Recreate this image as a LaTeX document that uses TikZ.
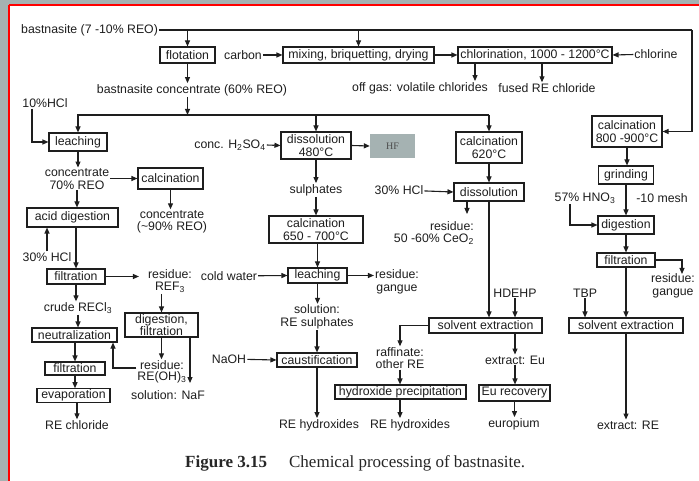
\documentclass[tikz,border=0pt]{standalone}
\usepackage{fontspec}
\setmainfont{Liberation Sans}
\newfontfamily\capfont{Liberation Serif}
\usetikzlibrary{arrows.meta}
\definecolor{bggray}{RGB}{165,178,178}
\definecolor{ink}{RGB}{30,30,30}
\begin{document}
\begin{tikzpicture}[x=1pt,y=-1pt,
  font=\fontsize{12.3}{12.5}\selectfont,
  every node/.style={text=ink},
  box/.style={draw=ink, line width=1.1pt, inner sep=1pt, align=center},
  lbl/.style={inner sep=1pt, align=center},
  arr/.style={draw=ink, line width=1.1pt, -{Triangle[length=6pt,width=5pt]}},
  ln/.style={draw=ink, line width=1.1pt}]
\useasboundingbox (0,0) rectangle (699,481);
\fill[bggray] (0,0) rectangle (699,481);
\fill[white] (9,5) rectangle (699,481);
\draw[red, line width=2.5pt] (9.2,5.2) -- (699,5.2);
\draw[red, line width=2.5pt] (9.2,5.2) -- (9.2,481);

% ---- top row
\node[lbl, anchor=west] (bast) at (20,30) {bastnasite (7 -10\% REO)};
\node[box, minimum width=55pt, minimum height=16pt] (flot) at (187.5,55) {flotation};
\node[lbl] (carbon) at (243,55) {carbon};
\node[box, minimum width=151pt, minimum height=16pt] (mix) at (358.5,55) {mixing, briquetting, drying};
\node[box, minimum width=154pt, minimum height=16pt] (chlor) at (535,55) {chlorination, 1000 - 1200°C};
\node[lbl] (chlorine) at (656,54) {chlorine};
\node[lbl] (offgas) at (420,88) {off gas: volatile chlorides};
\node[lbl] (fused) at (547,88) {fused RE chloride};
\node[lbl] (bconc) at (192,90) {bastnasite concentrate (60\% REO)};
\coordinate (dl) at (77,115);
\coordinate (tr) at (692,30);
\coordinate (offin) at ([xshift=55pt]offgas.north);
\coordinate (fusedin) at ([xshift=-5pt]fused.north);

% ---- left column
\node[lbl] (hcl10) at (45,103) {10\%HCl};
\node[box, minimum width=58pt, minimum height=18pt] (leach1) at (78,142) {leaching};
\node[lbl] (conc70) at (77,179) {concentrate\\70\% REO};
\node[box, minimum width=65pt, minimum height=21pt] (calc1) at (170.5,178.5) {calcination};
\node[lbl] (conc90) at (172,222) {concentrate\\(\textasciitilde 90\% REO)};
\node[box, minimum width=91pt, minimum height=19pt] (acid) at (72.5,217.5) {acid digestion};
\node[lbl] (hcl30a) at (47,257) {30\% HCl};
\node[box, minimum width=58pt, minimum height=15pt] (filt1) at (76,276.5) {filtration};
\node[lbl] (resREF) at (170,281) {residue:\\REF\textsubscript{3}};
\node[lbl] (crude) at (78,308) {crude RECl\textsubscript{3}};
\node[box, minimum width=85pt, minimum height=14pt] (neut) at (74.5,335) {neutralization};
\node[box, minimum width=60pt, minimum height=13pt] (filt2) at (75,368.5) {filtration};
\node[box, minimum width=73pt, minimum height=13pt] (evap) at (73.5,395.5) {evaporation};
\node[lbl] (rechl) at (77,425) {RE chloride};
\node[box, minimum width=73pt, minimum height=24pt, font=\fontsize{12.3}{11.5}\selectfont] (dig1) at (161.5,325) {digestion,\\filtration};
\node[lbl, font=\fontsize{12.3}{11.5}\selectfont] (resOH) at (162,372) {residue:\\RE(OH)\textsubscript{3}};
\node[lbl] (naf) at (168,395) {solution: NaF};
\coordinate (nafin) at (190,383);

% ---- middle column
\node[lbl] (h2so4) at (230,145) {conc. H\textsubscript{2}SO\textsubscript{4}};
\node[box, minimum width=70pt, minimum height=27pt] (diss1) at (316,145.5) {dissolution\\480°C};
\node[fill=bggray, minimum width=45pt, minimum height=24pt, inner sep=0pt,
      font=\capfont\fontsize{10}{11}\selectfont, text=black!70] (hf) at (392.5,146) {HF};
\node[lbl] (sulph) at (316,190) {sulphates};
\node[box, minimum width=94pt, minimum height=27pt] (calc650) at (316,229.5) {calcination\\650 - 700°C};
\node[lbl] (cold) at (229,276) {cold water};
\node[box, minimum width=59pt, minimum height=15pt] (leach2) at (317.5,275.5) {leaching};
\node[lbl] (resG) at (397,282) {residue:\\gangue};
\node[lbl] (soln) at (317,317) {solution:\\RE sulphates};
\node[lbl] (naoh) at (229,359) {NaOH};
\node[box, minimum width=80pt, minimum height=14pt] (caust) at (317,360) {caustification};
\node[lbl] (reh1) at (319,425) {RE hydroxides};

% ---- middle-right column
\node[box, minimum width=66pt, minimum height=31pt] (calc620) at (489,147.5) {calcination\\620°C};
\node[lbl] (hcl30b) at (399,190) {30\% HCl};
\node[box, minimum width=70pt, minimum height=18pt] (diss2) at (489,192) {dissolution};
\node[lbl, align=right, anchor=east] (resCe) at (475,233) {residue:\\50 -60\% CeO\textsubscript{2}};
\coordinate (cein) at (467,214);
\node[lbl] (hdehp) at (515,293) {HDEHP};
\node[box, minimum width=113pt, minimum height=15pt] (solv1) at (485.5,325.5) {solvent extraction};
\node[lbl, font=\fontsize{12.3}{12}\selectfont] (raff) at (400,358) {raffinate:\\other RE};
\node[box, minimum width=131pt, minimum height=14pt] (hydr) at (400.5,392) {hydroxide precipitation};
\node[lbl] (reh2) at (410,425) {RE hydroxides};
\node[lbl] (exEu) at (515,360) {extract: Eu};
\node[box, minimum width=71pt, minimum height=16pt] (eurec) at (514.5,393) {Eu recovery};
\node[lbl] (euro) at (514,424) {europium};

% ---- right column
\node[box, minimum width=70pt, minimum height=31pt] (calc800) at (627,131.5) {calcination\\800 -900°C};
\node[box, minimum width=55pt, minimum height=18pt] (grind) at (626,175) {grinding};
\node[lbl] (hno3) at (585,198) {57\% HNO\textsubscript{3}};
\node[lbl] (mesh) at (662,198) {-10 mesh};
\node[box, minimum width=56pt, minimum height=18pt] (dig2) at (626,225) {digestion};
\node[box, minimum width=58pt, minimum height=14pt] (filt3) at (626,260) {filtration};
\node[lbl] (resG2) at (673,286) {residue:\\gangue};
\coordinate (g2in) at (682,274);
\node[lbl] (tbp) at (585,293) {TBP};
\node[box, minimum width=114pt, minimum height=15pt] (solv2) at (626,325.5) {solvent extraction};
\node[lbl] (exRE) at (628,425) {extract: RE};

% ---- caption
\node[anchor=west, inner sep=0pt, text=black!85, font=\capfont\fontsize{17}{18}\selectfont] (cap) at (185,463)
  {\textbf{Figure 3.15}\hspace{1.3em}Chemical processing of bastnasite.};

% ---- connectors: top
\draw[ln] (bast.east) -- (tr);
\draw[arr] (tr) |- (calc800.east);
\draw[arr] (flot.north |- bast.east) -- (flot.north);
\draw[arr] (mix.north |- bast.east) -- (mix.north);
\draw[arr] (carbon) -- (mix.west);
\draw[arr] (mix.east) -- (chlor.west);
\draw[arr] (chlorine) -- (chlor.east);
\draw[arr] (chlor.south -| offin) -- (offin);
\draw[arr] (chlor.south -| fusedin) -- (fusedin);
\draw[arr] (flot.south) -- (flot.south |- bconc.north);
\draw[arr] (bconc.south -| flot.south) -- (dl -| flot.south);
\draw[arr] (dl -| calc620.north) -| (leach1.north);
\draw[arr] (dl -| diss1.north) -- (diss1.north);
\draw[arr] (dl -| calc620.north) -- (calc620.north);

% ---- left
\draw[arr] ([xshift=-13pt]hcl10.south) |- (leach1.west);
\draw[arr] (leach1.south) -- (leach1.south |- conc70.north);
\draw[arr] (conc70.east |- calc1.west) -- (calc1.west);
\draw[arr] (calc1.south) -- (calc1.south |- conc90.north);
\draw[arr] (conc70.south) -- (conc70.south |- acid.north);
\draw[arr] (hcl30a.north) -- (hcl30a.north |- acid.south);
\draw[arr] (acid.south -| filt1.north) -- (filt1.north);
\draw[arr, shorten >=8pt] (filt1.east) -- (filt1.east -| resREF.west);
\draw[arr] (filt1.south) -- (filt1.south |- crude.north);
\draw[arr] (crude.south) -- (crude.south |- neut.north);
\draw[arr] (neut.south -| filt2.north) -- (filt2.north);
\draw[arr] (filt2.south) -- (filt2.south |- evap.north);
\draw[arr] (evap.south -| rechl.north) -- (rechl.north);
\draw[arr] (dig1.north |- resREF.south) -- (dig1.north);
\draw[arr] (dig1.south) -- (dig1.south |- resOH.north);
\draw[arr] (dig1.south -| nafin) -- (nafin);
\draw[arr] ([yshift=4pt]resOH.west) -| ([xshift=38.5pt]neut.south);

% ---- middle
\draw[arr] (h2so4.east) -- (diss1.west);
\draw[arr] (diss1.east) -- (hf.west);
\draw[arr] (diss1.south) -- (diss1.south |- sulph.north);
\draw[arr] (sulph.south) -- (sulph.south |- calc650.north);
\draw[arr] (calc650.south -| leach2.north) -- (leach2.north);
\draw[arr] (cold) -- (leach2.west);
\draw[arr] (leach2.east) -- (resG.west |- leach2.east);
\draw[arr] (leach2.south) -- (leach2.south |- soln.north);
\draw[arr] (soln.south) -- (soln.south |- caust.north);
\draw[arr] (naoh) -- (caust.west);
\draw[arr] (caust.south) -- (caust.south |- reh1.north);

% ---- middle-right
\draw[arr] (calc620.south) -- (diss2.north);
\draw[arr] (hcl30b) -- (diss2.west);
\draw[arr] (diss2.south -| cein) -- (cein);
\draw[arr] (diss2.south) -- (diss2.south |- solv1.north);
\draw[arr] (hdehp.south) -- (hdehp.south |- solv1.north);
\draw[arr] (exEu.north |- solv1.south) -- (exEu.north);
\draw[arr] (exEu.south) -- (exEu.south |- eurec.north);
\draw[arr] (eurec.south) -- (eurec.south |- euro.north);
\draw[arr] (solv1.west) -| (raff.north);
\draw[arr] (raff.south) -- (raff.south |- hydr.north);
\draw[arr] (hydr.south -| raff.south) -- (raff.south |- reh2.north);

% ---- right
\draw[arr] (calc800.south) -- (calc800.south |- grind.north);
\draw[arr] (grind.south) -- (dig2.north);
\draw[arr] ([xshift=-15pt]hno3.south) |- (dig2.west);
\draw[arr] (dig2.south) -- (filt3.north);
\draw[arr] (filt3.east) -| (g2in);
\draw[arr] (filt3.south) -- (filt3.south |- solv2.north);
\draw[arr] (tbp.south) -- (tbp.south |- solv2.north);
\draw[arr] (solv2.south) -- (solv2.south |- exRE.north);
\end{tikzpicture}
\end{document}
